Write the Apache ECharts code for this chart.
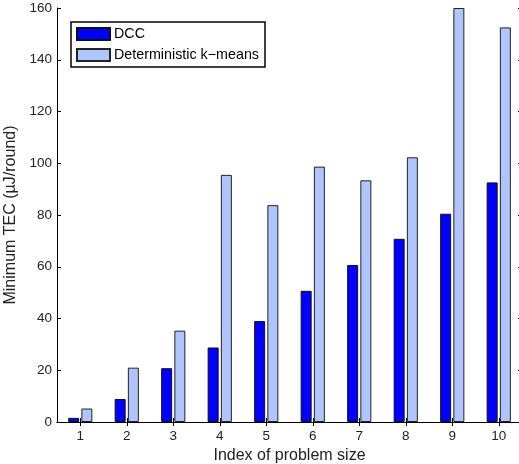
<!DOCTYPE html>
<html>
<head>
<meta charset="utf-8">
<script src="https://cdn.jsdelivr.net/npm/echarts@6/dist/echarts.min.js"></script>
<style>html,body{margin:0;padding:0;background:#fff;}#c{width:519px;height:464px;}</style>
</head>
<body>
<div id="c"></div>
<script>
const categories = ['1','2','3','4','5','6','7','8','9','10'];
const dccValues = [1.6, 8.9, 20.8, 28.8, 39.0, 50.7, 60.7, 70.8, 80.5, 92.6];
const kmeansValues = [5.2, 21.0, 35.3, 95.5, 83.8, 98.7, 93.4, 102.3, 160, 152.5];
const seriesNames = ['DCC', 'Deterministic k\u2212means'];
const yTicks = {min: 0, max: 160, interval: 20};

const font = 'Liberation Sans, Arial, Helvetica, sans-serif';
const chart = echarts.init(document.getElementById('c'), null, {renderer: 'canvas'});
const axisLine = {show: true, lineStyle: {color: '#000', width: 1}};
chart.setOption({
  animation: false,
  backgroundColor: '#fff',
  textStyle: {fontFamily: font},
  legend: {
    orient: 'vertical',
    left: 71, top: 22,
    icon: 'rect',
    itemWidth: 33, itemHeight: 12, itemGap: 7,
    padding: [5, 6, 5, 5],
    borderColor: '#000', borderWidth: 1.5,
    backgroundColor: '#fff',
    textStyle: {fontSize: 14.3, color: '#000', fontFamily: font, padding: [0, 0, 0, -1]},
    data: seriesNames
  },
  grid: {left: 57, top: 8, width: 465, bottom: 42, containLabel: false, outerBoundsMode: 'none'},
  xAxis: [{
    type: 'category', data: categories, position: 'bottom',
    axisLine: axisLine,
    axisTick: {show: true, inside: true, alignWithLabel: true, length: 4, lineStyle: {color: '#000'}},
    axisLabel: {fontSize: 13.5, color: '#222', margin: 7, fontFamily: font},
    name: 'Index of problem size', nameLocation: 'middle', nameGap: 19,
    nameTextStyle: {fontSize: 16, color: '#222', fontFamily: font}
  }, {
    type: 'category', data: categories, position: 'top',
    axisLine: axisLine,
    axisTick: {show: true, inside: true, alignWithLabel: true, length: 4, lineStyle: {color: '#000'}},
    axisLabel: {show: false}
  }],
  yAxis: [{
    type: 'value', min: yTicks.min, max: yTicks.max, interval: yTicks.interval, position: 'left',
    axisLine: axisLine,
    axisTick: {show: true, inside: true, length: 4, lineStyle: {color: '#000'}},
    splitLine: {show: false},
    axisLabel: {fontSize: 13.5, color: '#222', margin: 5, fontFamily: font},
    name: 'Minimum TEC (\u00b5J/round)', nameLocation: 'middle', nameGap: 29,
    nameTextStyle: {fontSize: 16, color: '#222', fontFamily: font}
  }, {
    type: 'value', min: yTicks.min, max: yTicks.max, interval: yTicks.interval, position: 'right',
    axisLine: axisLine,
    axisTick: {show: true, inside: true, length: 4, lineStyle: {color: '#000'}},
    splitLine: {show: false},
    axisLabel: {show: false}
  }],
  series: [{
    name: seriesNames[0], type: 'bar', data: dccValues,
    barWidth: 11, barGap: '20%',
    itemStyle: {color: '#0000ff', borderColor: '#111', borderWidth: 1}
  }, {
    name: seriesNames[1], type: 'bar', data: kmeansValues,
    barWidth: 11, barGap: '20%',
    itemStyle: {color: '#b0c4ff', borderColor: '#222', borderWidth: 1}
  }]
});
</script>
</body>
</html>
